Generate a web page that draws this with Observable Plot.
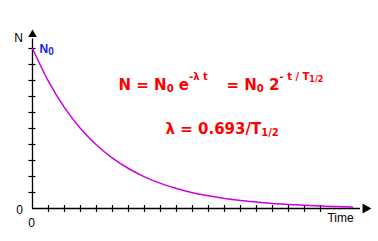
<!DOCTYPE html>
<html>
<head>
<meta charset="utf-8">
<script src="https://cdn.jsdelivr.net/npm/d3@7"></script>
<script src="https://cdn.jsdelivr.net/npm/@observablehq/plot@0.6"></script>
<style>
  html, body { margin: 0; padding: 0; background: #fff; }
  svg { display: block; }
</style>
</head>
<body>
<div id="chart"></div>
<script>
// Decay curve (time units, N in tenths of N0 scale)
const times = [0, 1, 2, 3, 4, 5, 6, 7, 8, 9, 10, 11, 12, 13, 14, 15, 16, 17, 18, 19, 20];
const values = [10, 7.94, 6.30, 5.00, 3.97, 3.15, 2.50, 1.98, 1.57, 1.25, 0.99, 0.79, 0.63, 0.50, 0.40, 0.31, 0.25, 0.20, 0.16, 0.12, 0.10];
const xTicks = [1, 2, 3, 4, 5, 6, 7, 8, 9, 10, 11, 12, 13, 14, 15, 16, 17, 18];
const yTicks = [1, 2, 3, 4, 5, 6, 7, 8, 9, 10];
const yLabel = "N";
const xLabel = "Time";
const zeroLabel = "0";
const n0Label = [["N", ""], ["0", "sub"]];
const formula1a = [["N = N", ""], ["0", "sub"], [" e", ""], ["-λ t", "sup"]];
const formula1b = [["= N", ""], ["0", "sub"], [" 2", ""], ["- t / T", "sup"], ["1/2", "supsub"]];
const formula2 = [["λ = 0.693/T", ""], ["1/2", "sub"]];

const data = times.map((t, i) => ({t, n: values[i]}));
const plain = segs => segs.map(s => s[0]).join("");

const font = "'Liberation Sans', Arial, sans-serif";
const fFont = "'DejaVu Sans', sans-serif";
const red = "#ff0000";
const lbl = {textAnchor: "middle", lineAnchor: "middle", fontSize: 12, fill: "#000", text: d => d};
const fml = {textAnchor: "start", lineAnchor: "middle", fontSize: 15, fontWeight: "bold", fontFamily: fFont, fill: red, text: d => d};

const chart = Plot.plot({
  width: 378,
  height: 241,
  marginLeft: 32,
  marginRight: 10,
  marginTop: 28,
  marginBottom: 33,
  style: {fontFamily: font, background: "#fff"},
  x: {domain: [0, 21], axis: null},
  y: {domain: [0, 11.25], axis: null},
  marks: [
    Plot.ruleY([0], {x1: 0, x2: 20.5, stroke: "#000", strokeWidth: 1.3}),
    Plot.ruleX([0], {y1: 0, y2: 10.6, stroke: "#000", strokeWidth: 1.3}),
    Plot.ruleX(xTicks, {x: d => d, y1: 0, y2: 0, insetTop: -3, insetBottom: -4, stroke: "#000", strokeWidth: 1.2}),
    Plot.ruleY(yTicks, {y: d => d, x1: 0, x2: 0, insetLeft: -3.5, insetRight: -3.5, stroke: "#000", strokeWidth: 1.2}),
    Plot.line(data, {x: "t", y: "n", curve: "monotone-x", stroke: "#cc00dd", strokeWidth: 1.5}),
    Plot.dot([0], {x: 0, y: 10.6, symbol: "triangle", r: 3.2, fill: "#000", stroke: "none", dy: -4.4}),
    Plot.dot([0], {x: 20.5, y: 0, symbol: "triangle", r: 3.8, rotate: 90, fill: "#000", stroke: "none", dx: 5}),
    Plot.text([yLabel], {...lbl, frameAnchor: "top-left", dx: -14, dy: 9.5}),
    Plot.text([zeroLabel], {...lbl, frameAnchor: "bottom-left", dx: -13, dy: 1.5}),
    Plot.text([zeroLabel], {...lbl, frameAnchor: "bottom-left", dx: -1, dy: 15}),
    Plot.text([xLabel], {...lbl, frameAnchor: "bottom-right", dx: -28, dy: 10}),
    Plot.text([plain(n0Label)], {...fml, frameAnchor: "top-left", dx: 7, dy: 20.5, fontSize: 12, fontFamily: font, fill: "#1a1ae6"}),
    Plot.text([plain(formula1a)], {...fml, frameAnchor: "top-left", dx: 86, dy: 56.2}),
    Plot.text([plain(formula1b)], {...fml, frameAnchor: "top-left", dx: 194, dy: 56.2}),
    Plot.text([plain(formula2)], {...fml, frameAnchor: "top-left", dx: 133, dy: 100.2})
  ]
});

// turn plain formula strings into sub/superscript tspans (offsets in px)
const styles = {"": [0, null], sub: [2.5, 10], sup: [-9.5, 10], supsub: [-7.5, 8]};
function rich(svg, segs) {
  const str = plain(segs);
  d3.select(svg).selectAll("text").filter(function() { return this.textContent === str; }).each(function() {
    const t = d3.select(this);
    t.text(null);
    let base = 0;
    for (const [s, kind] of segs) {
      const [off, size] = styles[kind];
      const ts = t.append("tspan").text(s).attr("dy", (off - base) + "px");
      if (size) ts.attr("font-size", size + "px");
      base = off;
    }
  });
}
rich(chart, n0Label);
rich(chart, formula1a);
rich(chart, formula1b);
rich(chart, formula2);
document.getElementById("chart").appendChild(chart);
</script>
</body>
</html>
